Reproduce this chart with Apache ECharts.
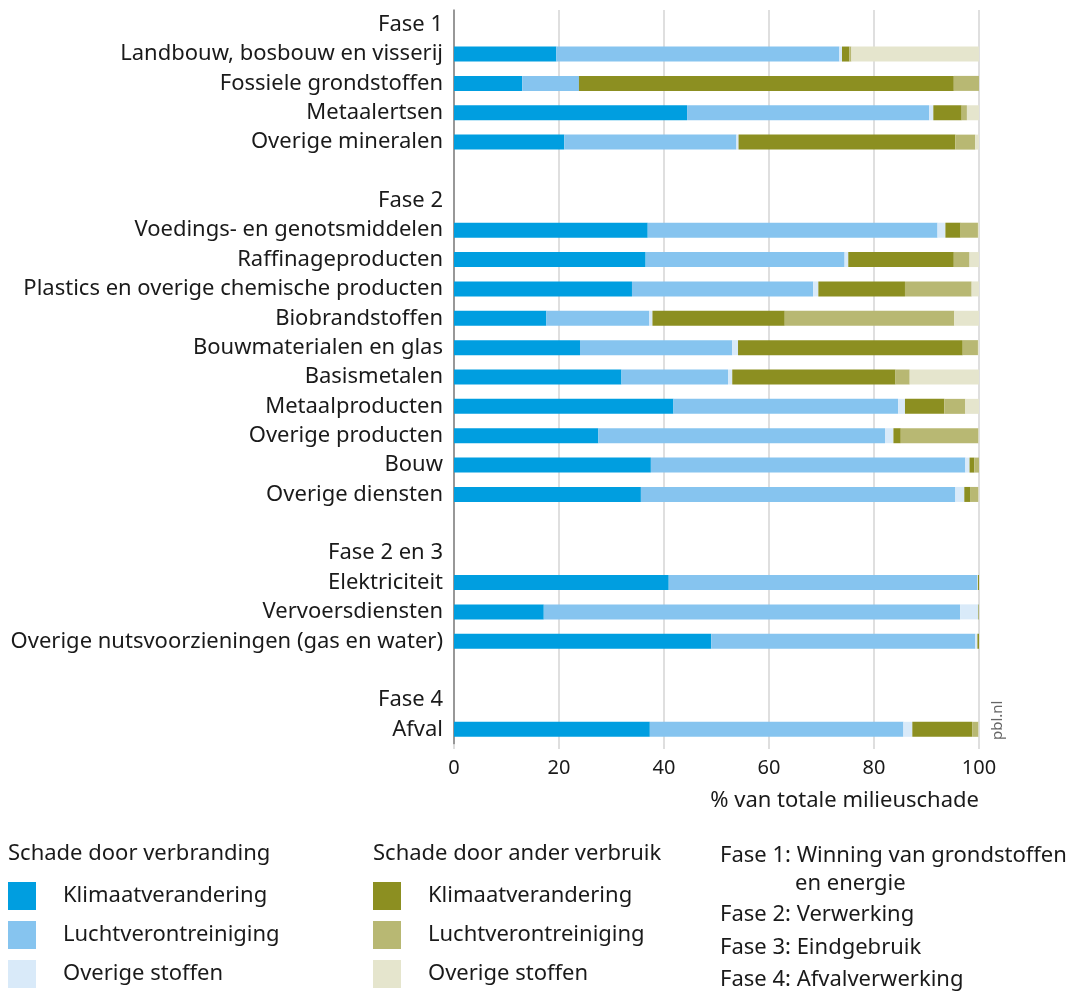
<!DOCTYPE html>
<html>
<head>
<meta charset="utf-8">
<script src="https://cdn.jsdelivr.net/npm/echarts@6/dist/echarts.min.js"></script>
<style>
  html, body { margin: 0; padding: 0; background: #fff; }
  #main { width: 1075px; height: 996px; }
</style>
</head>
<body>
<div id="main"></div>
<script>
// rows top to bottom; '_' rows are empty spacers, 'Fase' rows are headings
const categories = [
  'Fase 1',
  'Landbouw, bosbouw en visserij',
  'Fossiele grondstoffen',
  'Metaalertsen',
  'Overige mineralen',
  '_1',
  'Fase 2',
  'Voedings- en genotsmiddelen',
  'Raffinageproducten',
  'Plastics en overige chemische producten',
  'Biobrandstoffen',
  'Bouwmaterialen en glas',
  'Basismetalen',
  'Metaalproducten',
  'Overige producten',
  'Bouw',
  'Overige diensten',
  '_2',
  'Fase 2 en 3',
  'Elektriciteit',
  'Vervoersdiensten',
  'Overige nutsvoorzieningen (gas en water)',
  '_3',
  'Fase 4',
  'Afval'
];

// % van totale milieuschade
const verbrKlimaat = [null, 19.5, 13.0, 44.4, 21.0, null, null, 36.9, 36.5, 33.9, 17.6, 24.0, 31.9, 41.8, 27.5, 37.5, 35.6, null, null, 40.9, 17.1, 49.0, null, null, 37.3];
const verbrLucht   = [null, 53.9, 10.8, 46.1, 32.8, null, null, 55.2, 37.9, 34.5, 19.6, 29.0, 20.3, 42.8, 54.6, 59.9, 59.9, null, null, 58.8, 79.3, 50.3, null, null, 48.3];
const verbrOverig  = [null, 0.5, 0, 0.8, 0.4, null, null, 1.5, 0.7, 1.0, 0.6, 1.1, 0.8, 1.3, 1.6, 0.8, 1.7, null, null, 0.1, 3.5, 0.4, null, null, 1.7];
const anderKlimaat = [null, 1.4, 71.4, 5.4, 41.3, null, null, 2.9, 20.1, 16.5, 25.2, 42.8, 31.1, 7.5, 1.4, 0.9, 1.2, null, null, 0.2, 0.1, 0.3, null, null, 11.4];
const anderLucht   = [null, 0.4, 4.8, 1.0, 3.8, null, null, 3.3, 3.0, 12.7, 32.3, 2.9, 2.7, 4.0, 14.8, 0.9, 1.5, null, null, 0, 0, 0, null, null, 1.2];
const anderOverig  = [null, 24.3, 0, 2.3, 0.7, null, null, 0.2, 1.8, 1.4, 4.7, 0.2, 13.2, 2.6, 0.1, 0, 0.1, null, null, 0, 0, 0, null, null, 0.1];

const xTicks = [0, 20, 40, 60, 80, 100];

const seriesDefs = [
  { id: 'vk', label: 'Klimaatverandering', data: verbrKlimaat, color: '#009ee0' },
  { id: 'vl', label: 'Luchtverontreiniging', data: verbrLucht, color: '#86c4ef' },
  { id: 'vo', label: 'Overige stoffen', data: verbrOverig, color: '#d9eaf9' },
  { id: 'ak', label: 'Klimaatverandering', data: anderKlimaat, color: '#8c8f21' },
  { id: 'al', label: 'Luchtverontreiniging', data: anderLucht, color: '#b8b873' },
  { id: 'ao', label: 'Overige stoffen', data: anderOverig, color: '#e5e5cd' }
];
const labelOf = {};
seriesDefs.forEach(s => { labelOf[s.id] = s.label; });

const FONT = 'Noto Sans';
const TXT = '#1a1a1a';
const FS = 22;
const gfont = FS + 'px "Noto Sans"';

const chart = echarts.init(document.getElementById('main'), null, { renderer: 'canvas' });

const legendBase = {
  orient: 'vertical',
  itemWidth: 28,
  itemHeight: 28,
  itemGap: 11,
  padding: 0,
  selectedMode: false,
  icon: 'rect',
  formatter: name => labelOf[name],
  textStyle: { fontFamily: FONT, fontSize: FS, color: TXT, padding: [0, 0, 0, 22] }
};

chart.setOption({
  animation: false,
  backgroundColor: '#fff',
  textStyle: { fontFamily: FONT },
  grid: { left: 454, right: 96, top: 10, height: 734 },
  xAxis: {
    type: 'value',
    min: 0,
    max: 100,
    interval: 20,
    axisLine: { show: false },
    axisTick: { show: true, length: 5, lineStyle: { color: '#d4d4d4', width: 1.5 } },
    splitLine: { show: true, lineStyle: { color: '#d4d4d4', width: 1.5 } },
    axisLabel: {
      fontSize: 20, color: TXT, margin: 14,
      formatter: v => xTicks.includes(v) ? String(v) : ''
    },
    name: '% van totale milieuschade',
    nameLocation: 'end',
    nameGap: 0,
    nameTextStyle: { fontSize: FS, color: TXT, align: 'right', verticalAlign: 'top', padding: [46, 0, 0, 0] }
  },
  yAxis: {
    type: 'category',
    inverse: true,
    data: categories,
    axisLine: { show: true, lineStyle: { color: '#808080', width: 1.5 } },
    axisTick: { show: false },
    splitLine: { show: false },
    axisLabel: {
      fontSize: FS, color: TXT, margin: 11, interval: 0,
      formatter: v => v.charAt(0) === '_' ? '' : v
    }
  },
  legend: [
    Object.assign({}, legendBase, { left: 8, top: 882, data: ['vk', 'vl', 'vo'] }),
    Object.assign({}, legendBase, { left: 373, top: 882, data: ['ak', 'al', 'ao'] })
  ],
  series: seriesDefs.map(s => ({
    type: 'bar',
    name: s.id,
    stack: 'total',
    barWidth: 15,
    data: s.data,
    itemStyle: { color: s.color },
    emphasis: { disabled: true }
  })),
  graphic: [
    { type: 'text', left: 8, top: 843, style: { text: 'Schade door verbranding', font: gfont, fill: TXT } },
    { type: 'text', left: 373, top: 843, style: { text: 'Schade door ander verbruik', font: gfont, fill: TXT } },
    { type: 'text', left: 720, top: 845, style: { text: 'Fase 1: Winning van grondstoffen', font: gfont, fill: TXT } },
    { type: 'text', left: 795, top: 873, style: { text: 'en energie', font: gfont, fill: TXT } },
    { type: 'text', left: 720, top: 904, style: { text: 'Fase 2: Verwerking', font: gfont, fill: TXT } },
    { type: 'text', left: 720, top: 937, style: { text: 'Fase 3: Eindgebruik', font: gfont, fill: TXT } },
    { type: 'text', left: 720, top: 969, style: { text: 'Fase 4: Afvalverwerking', font: gfont, fill: TXT } },
    {
      type: 'text', x: 990, y: 740, rotation: Math.PI / 2,
      style: { text: 'pbl.nl', font: '15px "Noto Sans"', fill: '#666', textAlign: 'left', textVerticalAlign: 'top' }
    }
  ]
});
</script>
</body>
</html>
